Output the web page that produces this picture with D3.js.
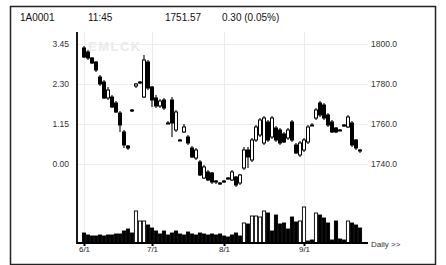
<!DOCTYPE html>
<html>
<head>
<meta charset="utf-8">
<script src="https://cdn.jsdelivr.net/npm/d3@7"></script>
<style>
  body { margin: 0; background: #fff; }
  svg { display: block; font-family: "Liberation Sans", Arial, sans-serif; }
</style>
</head>
<body>
<svg id="svg" width="446" height="265"></svg>
<script>
// daily candles, oldest first
let opens  = [1798,1796,1793,1791,1783.5,1781,1773,1773.5,1770.5,1765.5,1756,1749,1766.5,1779,1780.5,1773.5,1791,1778.5,1773,1769,
              1772,1760.5,1772,1757,1752,1756,1753.5,1748,1743,1741,1733,1736,1735.5,1731.5,1730.5,1731,1732.5,1732,1733.5,1730.5,
              1738,1747,1742,1752,1754.5,1750.5,1761,1753.5,1758,1757,1755,1753,1761,1749.5,1744.5,1747,1751,1759.5,1763,1770.5,
              1769.5,1764.5,1761,1758,1757,1759,1758.5,1760.5,1752,1747];
let highs  = [1799,1797,1793.5,1791.5,1784.5,1782,1778.5,1774.5,1771.5,1766.5,1757,1749.5,1767.5,1780.5,1781.5,1794.5,1792,1779,1774.5,1772.5,
              1773,1761.5,1773.5,1767,1752.5,1760,1754.5,1749,1748,1742,1739.5,1737,1736,1732,1731,1732,1733.5,1737,1734,1735,
              1748.5,1748.5,1753,1759.5,1763,1764,1762,1764,1759,1758,1756,1758,1762,1750.5,1751.5,1753,1759.5,1760.5,1768,1771.5,
              1770.5,1765.5,1762,1758.5,1757.5,1760,1764.5,1761.5,1752.5,1747.5];
let lows   = [1793,1792,1790,1786,1779,1772.5,1772,1768,1765.5,1756,1748,1747,1766,1778,1780,1773,1777,1768.5,1768,1768,
              1767,1760,1753.5,1756,1751.5,1755.5,1749.5,1743,1742,1734,1732.5,1731.5,1730,1730,1729.5,1730.5,1732,1731.5,1728.5,1729.5,
              1737,1738,1741,1751,1753.5,1749.5,1751,1752.5,1751,1749.5,1750.5,1752,1751,1745,1743.5,1746,1750,1759,1762,1763.5,
              1762,1758.5,1755.5,1755.5,1756.5,1758.5,1758,1748.5,1747,1745.5];
let closes = [1793.5,1793,1790.5,1787,1780,1773,1777,1768.5,1766,1759.5,1749.5,1748,1767,1780,1781,1792,1778,1772,1769,1771.5,
              1768,1760.5,1760.5,1766,1752,1758.5,1750.5,1743.5,1747,1734.5,1738.5,1732,1731,1731,1730,1731.5,1733,1736,1729.5,1734.5,
              1747,1743.5,1752,1758.5,1762,1763,1752,1763,1752,1750.5,1751,1757,1752,1745.5,1750.5,1752,1758.5,1759.5,1767,1764.5,
              1763,1759.5,1756,1756,1757,1759.5,1763.5,1749.5,1748,1746.5];
let volumes = [10,8,7,7,8,7,8,8,9,9,12,14,10,32,22,22,18,15,12,9,
               12,8,10,12,9,8,11,9,8,10,9,8,9,8,9,7,6,8,10,7,
               20,19,27,27,26,32,30,12,28,19,20,14,26,21,22,36,2,3,30,28,
               25,20,3,22,4,3,22,20,18,15];

let dateTickIndex = [0, 17, 35, 55];
let dateTickLabels = ["6/1", "7/1", "8/1", "9/1"];
let priceTicks = [1800, 1780, 1760, 1740];
let leftTickLabels = ["3.45", "2.30", "1.15", "0.00"];
let rightTickLabels = ["1800.0", "1780.0", "1760.0", "1740.0"];
let headerTexts = ["1A0001", "11:45", "1751.57", "0.30 (0.05%)"];

let svg = d3.select("svg");

// outer frame
svg.append("rect")
  .attr("x", 10.5).attr("y", 6.5)
  .attr("width", 425).attr("height", 258)
  .attr("fill", "none").attr("stroke", "#222").attr("stroke-width", 1.5);

let plot = {left: 77, right: 368, top: 32, bottom: 243};

let x = d3.scaleLinear().domain([0, opens.length - 1]).range([84, 360]);
let y = d3.scaleLinear().domain([1740, 1800]).range([164, 44]);
let yv = d3.scaleLinear().domain([0, 40]).range([plot.bottom, plot.bottom - 40]);

// header
let headerX = [20, 88, 165, 222];
svg.selectAll("text.header")
  .data(headerTexts)
  .enter().append("text")
    .attr("class", "header")
    .attr("x", (d, i) => headerX[i])
    .attr("y", 21)
    .attr("font-size", 10)
    .attr("fill", "#111")
    .text(d => d);

// watermark
svg.append("text")
  .attr("x", 88).attr("y", 51)
  .attr("font-size", 13).attr("font-weight", "bold")
  .attr("letter-spacing", 1.5)
  .attr("fill", "#ebebeb")
  .text("EMLCK");

// grid
let grid = svg.append("g").attr("stroke", "#ececec").attr("stroke-width", 1);
grid.selectAll("line.h")
  .data(priceTicks)
  .enter().append("line")
    .attr("x1", plot.left).attr("x2", plot.right)
    .attr("y1", d => Math.round(y(d)) + 0.5)
    .attr("y2", d => Math.round(y(d)) + 0.5);
grid.selectAll("line.v")
  .data(dateTickIndex)
  .enter().append("line")
    .attr("x1", d => Math.round(x(d)) + 0.5)
    .attr("x2", d => Math.round(x(d)) + 0.5)
    .attr("y1", plot.top).attr("y2", plot.bottom);

// price axes (labels only, left and right)
let leftAxis = d3.axisLeft(y).tickValues(priceTicks)
  .tickFormat((d, i) => leftTickLabels[i]).tickSize(0).tickPadding(0);
svg.append("g")
  .attr("transform", "translate(69,0)")
  .call(leftAxis)
  .call(g => g.select(".domain").remove())
  .selectAll("text").attr("font-size", 8.5).attr("fill", "#333")
    .attr("font-family", "Liberation Sans, Arial, sans-serif");

let rightAxis = d3.axisRight(y).tickValues(priceTicks)
  .tickFormat((d, i) => rightTickLabels[i]).tickSize(0).tickPadding(0);
svg.append("g")
  .attr("transform", "translate(371,0)")
  .call(rightAxis)
  .call(g => g.select(".domain").remove())
  .selectAll("text").attr("font-size", 8.5).attr("fill", "#333")
    .attr("font-family", "Liberation Sans, Arial, sans-serif");

// volume bars
svg.append("g")
  .selectAll("rect")
  .data(volumes)
  .enter().append("rect")
    .attr("x", (d, i) => x(i) - 1.6)
    .attr("y", d => yv(d))
    .attr("width", 3.2)
    .attr("height", d => plot.bottom - yv(d))
    .attr("fill", (d, i) => closes[i] >= opens[i] && d > 15 ? "#fff" : "#000")
    .attr("stroke", "#000")
    .attr("stroke-width", 0.9);

// candles
let candles = svg.append("g")
  .selectAll("g")
  .data(opens.map((o, i) => ({i, o, h: highs[i], l: lows[i], c: closes[i]})))
  .enter().append("g");

candles.append("line")
  .attr("x1", d => x(d.i)).attr("x2", d => x(d.i))
  .attr("y1", d => y(d.h)).attr("y2", d => y(d.l))
  .attr("stroke", "#000").attr("stroke-width", 1.1);

candles.append("rect")
  .attr("x", d => x(d.i) - 1.5)
  .attr("y", d => y(Math.max(d.o, d.c)))
  .attr("width", 3)
  .attr("height", d => Math.max(1, Math.abs(y(d.o) - y(d.c))))
  .attr("fill", d => d.c >= d.o ? "#fff" : "#000")
  .attr("stroke", "#000")
  .attr("stroke-width", 1);

// axis lines
svg.append("line")
  .attr("x1", plot.left).attr("x2", plot.left)
  .attr("y1", plot.top).attr("y2", plot.bottom + 1)
  .attr("stroke", "#000").attr("stroke-width", 1.8);

let xAxis = d3.axisBottom(x).tickValues(dateTickIndex)
  .tickFormat((d, i) => dateTickLabels[i]).tickSize(3).tickPadding(0);
svg.append("g")
  .attr("transform", "translate(0," + plot.bottom + ")")
  .call(xAxis)
  .call(g => g.select(".domain").remove())
  .call(g => g.selectAll("line").attr("stroke-width", 2))
  .selectAll("text").attr("font-size", 8).attr("fill", "#222")
    .attr("font-family", "Liberation Sans, Arial, sans-serif");

svg.append("line")
  .attr("x1", plot.left).attr("x2", plot.right)
  .attr("y1", plot.bottom).attr("y2", plot.bottom)
  .attr("stroke", "#000").attr("stroke-width", 1.8);

svg.append("text")
  .attr("x", 371).attr("y", 247)
  .attr("font-size", 8)
  .attr("fill", "#333")
  .text("Daily >>");
</script>
</body>
</html>
